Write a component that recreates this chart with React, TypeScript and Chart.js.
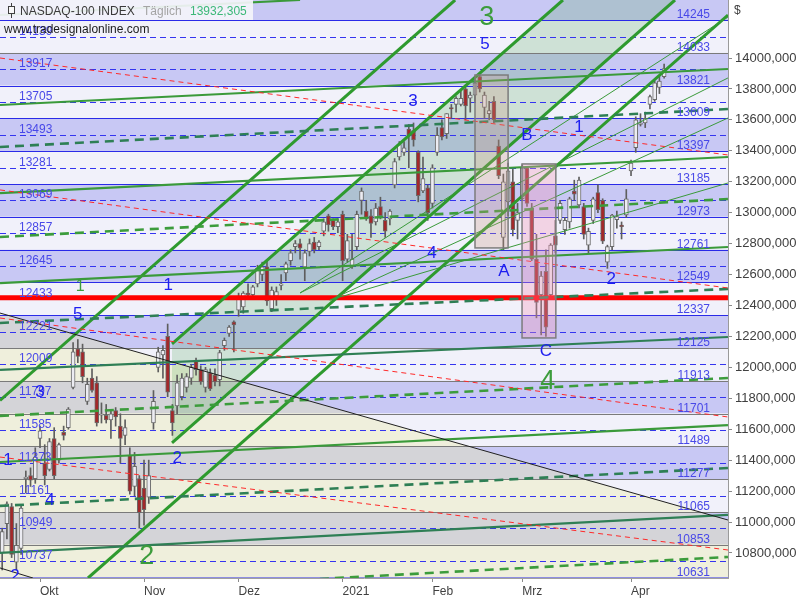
import React, { useEffect, useRef } from "react";
import { Chart, registerables } from "chart.js";

Chart.register(...registerables);

// ---------------- DATA ----------------
const dates: string[] = [
  "2020-09-21","2020-09-22","2020-09-23","2020-09-24","2020-09-25","2020-09-28","2020-09-29","2020-09-30",
  "2020-10-01","2020-10-02","2020-10-05","2020-10-06","2020-10-07","2020-10-08","2020-10-09","2020-10-12","2020-10-13","2020-10-14","2020-10-15","2020-10-16","2020-10-19","2020-10-20","2020-10-21","2020-10-22","2020-10-23","2020-10-26","2020-10-27","2020-10-28","2020-10-29","2020-10-30",
  "2020-11-02","2020-11-03","2020-11-04","2020-11-05","2020-11-06","2020-11-09","2020-11-10","2020-11-11","2020-11-12","2020-11-13","2020-11-16","2020-11-17","2020-11-18","2020-11-19","2020-11-20","2020-11-23","2020-11-24","2020-11-25","2020-11-27","2020-11-30",
  "2020-12-01","2020-12-02","2020-12-03","2020-12-04","2020-12-07","2020-12-08","2020-12-09","2020-12-10","2020-12-11","2020-12-14","2020-12-15","2020-12-16","2020-12-17","2020-12-18","2020-12-21","2020-12-22","2020-12-23","2020-12-24","2020-12-28","2020-12-29","2020-12-30","2020-12-31",
  "2021-01-04","2021-01-05","2021-01-06","2021-01-07","2021-01-08","2021-01-11","2021-01-12","2021-01-13","2021-01-14","2021-01-15","2021-01-19","2021-01-20","2021-01-21","2021-01-22","2021-01-25","2021-01-26","2021-01-27","2021-01-28","2021-01-29",
  "2021-02-01","2021-02-02","2021-02-03","2021-02-04","2021-02-05","2021-02-08","2021-02-09","2021-02-10","2021-02-11","2021-02-12","2021-02-16","2021-02-17","2021-02-18","2021-02-19","2021-02-22","2021-02-23","2021-02-24","2021-02-25","2021-02-26",
  "2021-03-01","2021-03-02","2021-03-03","2021-03-04","2021-03-05","2021-03-08","2021-03-09","2021-03-10","2021-03-11","2021-03-12","2021-03-15","2021-03-16","2021-03-17","2021-03-18","2021-03-19","2021-03-22","2021-03-23","2021-03-24","2021-03-25","2021-03-26","2021-03-29","2021-03-30","2021-03-31",
  "2021-04-01","2021-04-05","2021-04-06","2021-04-07","2021-04-08","2021-04-09","2021-04-12","2021-04-13",
];

const opens: number[] = [
  10800,10990,11100,10740,10830,11280,11300,11280,
  11540,11380,11340,11540,11400,11580,11610,11870,12120,12100,11780,11930,11900,11690,11690,11660,11720,11620,11560,11430,11230,11280,
  11220,11160,11640,12000,12080,12200,11720,11750,11810,11870,11930,12040,11985,11870,11965,11950,11920,12140,12220,12295,
  12370,12390,12480,12470,12540,12600,12650,12380,12460,12530,12610,12690,12780,12800,12650,12750,12810,12780,12880,12980,12950,12910,
  12990,12700,12650,12780,13080,13010,12980,12940,13040,12950,12960,13180,13360,13390,13540,13530,13390,13140,13160,
  13060,13390,13550,13510,13680,13700,13700,13800,13740,13760,13880,13680,13640,13720,13430,12840,13070,13200,12950,
  13090,13290,13030,12700,12470,12620,12470,12850,12950,12890,12940,13140,13050,13040,12790,12950,13130,13080,12680,12780,12955,12920,12985,
  13270,13420,13570,13580,13700,13730,13810,13880,
];
const highs: number[] = [
  10960,11130,11120,10990,11110,11330,11350,11480,
  11620,11500,11540,11610,11510,11620,11740,12160,12180,12150,11930,11990,11940,11770,11760,11720,11740,11700,11660,11480,11450,11300,
  11400,11400,11850,12130,12140,12280,11760,11950,11960,11960,12020,12060,12010,12000,11990,11990,12110,12190,12270,12300,
  12480,12490,12540,12530,12660,12680,12690,12520,12520,12600,12680,12760,12820,12830,12760,12830,12840,12820,12960,12990,12960,12960,
  13010,12860,12860,13010,13160,13080,13020,13060,13100,13000,13020,13350,13460,13460,13570,13580,13400,13360,13180,
  13310,13550,13600,13640,13700,13750,13790,13820,13780,13860,13890,13780,13720,13750,13470,13250,13320,13280,13060,
  13310,13300,13060,12860,12620,12760,12800,12950,13080,12970,13100,13210,13230,13060,12900,13100,13180,13090,12790,12990,13010,12940,13150,
  13340,13620,13640,13650,13760,13850,13880,13960,
];
const lows: number[] = [
  10690,10890,10770,10690,10790,11190,11230,11250,
  11480,11240,11330,11280,11380,11530,11600,11860,12030,11900,11760,11840,11620,11640,11640,11540,11620,11380,11500,11180,11170,10960,
  10980,11120,11600,11970,11930,11810,11560,11700,11790,11840,11890,11950,11890,11840,11850,11880,11880,12110,12200,12100,
  12330,12350,12440,12440,12520,12560,12400,12360,12400,12500,12560,12660,12740,12700,12560,12720,12740,12760,12850,12880,12890,12870,
  12560,12680,12640,12760,12990,12950,12840,12920,12960,12840,12920,13160,13340,13370,13290,13430,13070,13130,12950,
  13030,13370,13470,13480,13610,13650,13690,13600,13650,13720,13780,13610,13600,13580,13220,12760,12980,12850,12830,
  13080,13040,12690,12320,12210,12200,12450,12740,12930,12860,12900,13080,13030,12830,12740,12930,13000,12800,12640,12760,12900,12830,12970,
  13240,13390,13560,13550,13670,13720,13770,13870,
];
const closes: number[] = [
  10938,11117,10790,10850,11090,11290,11270,11420,
  11590,11300,11520,11300,11500,11560,11730,12100,12070,11940,11890,11850,11640,11700,11660,11700,11680,11540,11610,11200,11360,11060,
  11080,11300,11780,12100,12110,11840,11640,11900,11930,11940,12000,11985,11905,11985,11860,11905,12095,12175,12260,12275,
  12450,12480,12470,12520,12640,12650,12430,12500,12490,12540,12670,12740,12800,12770,12740,12800,12760,12810,12940,12920,12910,12940,
  12690,12820,12700,12990,13140,12960,12930,13030,12980,12880,13010,13330,13440,13420,13500,13470,13110,13220,13000,
  13290,13500,13490,13640,13670,13740,13740,13690,13760,13840,13800,13760,13660,13600,13240,13200,13270,12890,13000,
  13290,13060,12700,12420,12590,12260,12790,12790,13060,12950,13090,13120,13210,12860,12880,13090,13020,12815,12780,12985,12975,12910,13090,
  13320,13600,13580,13610,13750,13840,13850,13932,
];

const monthNames: Record<string, string> = {
  "2020-10": "Okt", "2020-11": "Nov", "2020-12": "Dez", "2021-01": "2021",
  "2021-02": "Feb", "2021-03": "Mrz", "2021-04": "Apr",
};
const priceTicks = [10800, 11000, 11200, 11400, 11600, 11800, 12000, 12200, 12400, 12600, 12800, 13000, 13200, 13400, 13600, 13800, 14000];

const solidLevels = [14245, 14033, 13821, 13609, 13397, 13185, 12973, 12761, 12549, 12337, 12125, 11913, 11701, 11489, 11277, 11065, 10853, 10641];
const rightLabels = ["14245", "14033", "13821", "13609", "13397", "13185", "12973", "12761", "12549", "12337", "12125", "11913", "11701", "11489", "11277", "11065", "10853", "10631"];
const midLevels = [14139, 13927, 13715, 13503, 13291, 13079, 12867, 12655, 12443, 12231, 12019, 11807, 11595, 11383, 11171, 10959, 10747];
const leftLabels = ["14139", "13917", "13705", "13493", "13281", "13069", "12857", "12645", "12433", "12221", "12009", "11797", "11585", "11373", "11161", "10949", "10737"];

// axis range (index units / price units)
const X_MIN = -0.46, X_MAX = 153.51, Y_MIN = 10638, Y_MAX = 14375;

// overlay lines in (bar index, price)
type P = [number, number];
const channelLines: P[][] = [
  [[-0.46, 11786], [95.8, 14375]],
  [[35.92, 12151], [118.6, 14375]],
  [[35.92, 11511], [142.3, 14375]],
  [[18.15, 10638], [153.5, 14278]],
];
const fanLines: P[][] = [
  [[63.0, 12481], [153.5, 14265]],
  [[63.0, 12481], [153.5, 13871]],
  [[69.3, 12435], [153.5, 13612]],
  [[69.3, 12435], [153.5, 13192]],
];
const trendSolid: P[][] = [
  [[-0.46, 14278], [63.0, 14375]],
  [[-0.46, 13696], [153.5, 13929]],
  [[-0.46, 13127], [153.5, 13360]],
  [[-0.46, 12545], [153.5, 12778]],
  [[-0.46, 11388], [153.5, 11627]],
];
const trendSolidDark: P[][] = [
  [[-0.46, 11983], [153.5, 12196]],
  [[-0.46, 10800], [153.5, 11046]],
];
const trendDashed: P[][] = [
  [[-0.46, 12843], [153.5, 13088]],
  [[-0.46, 11686], [153.5, 11931]],
  [[67.2, 10632], [153.5, 10774]],
];
const trendDashedDark: P[][] = [
  [[-0.46, 13425], [153.5, 13670]],
  [[-0.46, 12287], [153.5, 12507]],
  [[-0.46, 11104], [153.5, 11349]],
];
const redDashed: P[][] = [
  [[-0.46, 14000], [153.5, 13373]],
  [[-0.46, 13147], [153.5, 12513]],
  [[-0.46, 12319], [153.5, 11679]],
  [[-0.46, 11420], [153.5, 10819]],
];
const blackLines: P[][] = [
  [[-0.46, 12351], [153.5, 11013]],
  [[-0.46, 10703], [6.5, 10638]],
];
const redLevel: P[] = [[-0.46, 12450], [153.5, 12450]];

// boxes: [i0, i1, vTop, vBottom]
const boxFeb = [100.0, 107.0, 13890, 12772];
const boxMar = [109.95, 117.1, 13315, 12190];

// wave annotations
const waveBlue = [
  { t: "5", i: 16.0, v: 12345 }, { t: "3", i: 8.0, v: 11841 }, { t: "1", i: 1.23, v: 11401 },
  { t: "4", i: 10.1, v: 11142 }, { t: "2", i: 2.7, v: 10651 }, { t: "2", i: 37.0, v: 11414 },
  { t: "1", i: 35.1, v: 12532 }, { t: "4", i: 90.9, v: 12739 }, { t: "3", i: 86.9, v: 13722 },
  { t: "5", i: 102.1, v: 14091 }, { t: "B", i: 111.0, v: 13502 }, { t: "1", i: 122.0, v: 13554 },
  { t: "A", i: 106.1, v: 12623 }, { t: "2", i: 128.8, v: 12571 }, { t: "C", i: 115.0, v: 12106 },
];
const waveGreen = [
  { t: "3", i: 102.5, v: 14259 }, { t: "4", i: 115.4, v: 11905 }, { t: "2", i: 30.6, v: 10774 },
];
const waveGreenSmall = [{ t: "1", i: 16.5, v: 12520 }];

// ---------------- RENDER ----------------
const FONT = "'Liberation Sans', Arial, sans-serif";
const LAV = "#c8c8f4";
const LIGHT = "#f1f1fa";

const monthTicks: { index: number; label: string }[] = [];
dates.forEach((d, i) => {
  const m = d.slice(0, 7);
  if (monthNames[m] && (i === 0 || dates[i - 1].slice(0, 7) !== m)) monthTicks.push({ index: i, label: monthNames[m] });
});

function lineDs(segs: P[][], color: string, width: number, dash: number[] = []) {
  return segs.map((s) => ({
    type: "line" as const,
    data: s.map(([x, y]) => ({ x, y })),
    borderColor: color,
    borderWidth: width,
    borderDash: dash,
    pointRadius: 0,
    fill: false,
    tension: 0,
    order: 0,
    clip: 0,
  }));
}

const bgPlugin = {
  id: "bg",
  beforeDatasetsDraw(chart: any) {
    const { ctx, chartArea: a, scales } = chart;
    const X = (i: number) => scales.x.getPixelForValue(i);
    const Y = (v: number) => scales.y.getPixelForValue(v);
    ctx.save();
    ctx.beginPath();
    ctx.rect(a.left, a.top, a.width, a.height);
    ctx.clip();
    ctx.fillStyle = LAV;
    ctx.fillRect(a.left, a.top, a.width, Y(solidLevels[0]) - a.top);
    for (let k = 0; k < solidLevels.length - 1; k++) {
      ctx.fillStyle = k % 2 === 0 ? LIGHT : LAV;
      const y0 = Y(solidLevels[k]);
      const y1 = Y(solidLevels[k + 1]);
      ctx.fillRect(a.left, y0, a.width, y1 - y0);
    }
    const poly = (pts: P[], fill: string) => {
      ctx.beginPath();
      pts.forEach(([i, v], k) => (k ? ctx.lineTo(X(i), Y(v)) : ctx.moveTo(X(i), Y(v))));
      ctx.closePath();
      ctx.fillStyle = fill;
      ctx.fill();
    };
    const bl = blackLines[0];
    poly([bl[0], bl[1], [X_MAX, Y_MIN], [X_MIN, Y_MIN]], "rgba(236,236,160,0.33)");
    const q = channelLines[1], r = channelLines[2];
    poly([q[0], q[1], r[1], r[0]], "rgba(70,165,70,0.2)");
    // band lines
    solidLevels.forEach((lv, k) => {
      const grey = k === 1 || (k >= 10 && k < solidLevels.length - 1);
      ctx.strokeStyle = grey ? "#7a7a7a" : "#2a2ae8";
      ctx.lineWidth = k === solidLevels.length - 1 ? 2 : 1.2;
      ctx.setLineDash([]);
      ctx.beginPath();
      ctx.moveTo(a.left, Math.round(Y(lv)) + 0.5);
      ctx.lineTo(a.right, Math.round(Y(lv)) + 0.5);
      ctx.stroke();
    });
    ctx.strokeStyle = "#3434f0";
    ctx.lineWidth = 1;
    ctx.setLineDash([6, 4]);
    midLevels.forEach((lv) => {
      ctx.beginPath();
      ctx.moveTo(a.left, Math.round(Y(lv)) + 0.5);
      ctx.lineTo(a.right, Math.round(Y(lv)) + 0.5);
      ctx.stroke();
    });
    ctx.restore();
  },
};

const fgPlugin = {
  id: "fg",
  afterDatasetsDraw(chart: any) {
    const { ctx, chartArea: a, scales } = chart;
    const X = (i: number) => scales.x.getPixelForValue(i);
    const Y = (v: number) => scales.y.getPixelForValue(v);
    ctx.save();
    ctx.beginPath();
    ctx.rect(a.left, a.top, a.width, a.height);
    ctx.clip();
    const box = (b: number[], fill: string) => {
      const x0 = X(b[0]), x1 = X(b[1]), y0 = Y(b[2]), y1 = Y(b[3]);
      ctx.fillStyle = fill;
      ctx.fillRect(x0, y0, x1 - x0, y1 - y0);
      ctx.strokeStyle = "#7c7c7c";
      ctx.lineWidth = 1.5;
      ctx.setLineDash([]);
      ctx.strokeRect(x0, y0, x1 - x0, y1 - y0);
    };
    box(boxFeb, "rgba(200,150,130,0.28)");
    box(boxMar, "rgba(245,150,185,0.32)");

    ctx.font = `12px ${FONT}`;
    ctx.fillStyle = "#4848e8";
    ctx.textBaseline = "alphabetic";
    ctx.textAlign = "right";
    solidLevels.forEach((lv, k) => ctx.fillText(rightLabels[k], 710, Y(lv) - 2));
    ctx.textAlign = "left";
    midLevels.forEach((lv, k) => ctx.fillText(leftLabels[k], 19, Y(lv) - 2));

    ctx.textAlign = "center";
    ctx.textBaseline = "middle";
    ctx.font = `17px ${FONT}`;
    ctx.fillStyle = "#1e1ef0";
    waveBlue.forEach((w) => ctx.fillText(w.t, X(w.i), Y(w.v)));
    ctx.font = `27px ${FONT}`;
    ctx.fillStyle = "#3c9c3c";
    waveGreen.forEach((w) => ctx.fillText(w.t, X(w.i), Y(w.v)));
    ctx.font = `16px ${FONT}`;
    waveGreenSmall.forEach((w) => ctx.fillText(w.t, X(w.i), Y(w.v)));
    ctx.restore();
  },
  afterDraw(chart: any) {
    const { ctx, chartArea: a } = chart;
    ctx.save();
    // frame
    ctx.strokeStyle = "#9a9a9a";
    ctx.lineWidth = 1;
    ctx.beginPath();
    ctx.moveTo(a.right + 0.5, a.top);
    ctx.lineTo(a.right + 0.5, a.bottom);
    ctx.stroke();
    // header
    ctx.fillStyle = "rgba(244,244,250,0.92)";
    ctx.fillRect(0, 0, 253, 20);
    ctx.strokeStyle = "#404040";
    ctx.lineWidth = 1;
    ctx.beginPath();
    ctx.moveTo(11.5, 3);
    ctx.lineTo(11.5, 18);
    ctx.stroke();
    ctx.fillStyle = "#f8f8f8";
    ctx.fillRect(8.5, 6.5, 6, 7);
    ctx.strokeRect(8.5, 6.5, 6, 7);
    ctx.font = `12px ${FONT}`;
    ctx.textBaseline = "middle";
    ctx.textAlign = "left";
    ctx.fillStyle = "#3a3a3a";
    ctx.fillText("NASDAQ-100 INDEX", 20, 12);
    ctx.fillStyle = "#a4a4a4";
    ctx.fillText("Täglich", 143, 12);
    ctx.fillStyle = "#3cb878";
    ctx.fillText("13932,305", 190, 12);
    ctx.fillStyle = "#1a1a1a";
    ctx.fillText("www.tradesignalonline.com", 4, 30);
    ctx.fillStyle = "#404040";
    ctx.fillText("$", 734, 11);
    ctx.restore();
  },
};

function buildConfig(): any {
  const wick = {
    type: "bar" as const,
    data: dates.map((_, i) => ({ x: i, y: [lows[i], highs[i]] })),
    backgroundColor: "#5e5e5e",
    barThickness: 1,
    grouped: false,
    order: 3,
  };
  const body = {
    type: "bar" as const,
    data: dates.map((_, i) => ({ x: i, y: [opens[i], closes[i]] })),
    backgroundColor: dates.map((_, i) => (closes[i] >= opens[i] ? "#ececf2" : "#a3282a")),
    borderColor: "#6a6a6a",
    borderWidth: 1,
    borderSkipped: false,
    barThickness: 4,
    grouped: false,
    order: 2,
  };
  return {
    type: "bar",
    data: {
      datasets: [
        wick,
        body,
        ...lineDs(blackLines, "#202020", 1),
        ...lineDs(redDashed, "#ff2a2a", 1, [5, 4]),
        ...lineDs(trendDashed, "#3c9c3c", 2.6, [9, 6]),
        ...lineDs(trendDashedDark, "#2e7f55", 2.6, [9, 6]),
        ...lineDs(trendSolid, "#3a9a3a", 2.2),
        ...lineDs(trendSolidDark, "#2f7f55", 2.2),
        ...lineDs(fanLines, "#3a9a3a", 1),
        ...lineDs(channelLines, "#2e9a2e", 3),
        ...lineDs([redLevel], "#ff0000", 5),
      ],
    },
    options: {
      responsive: false,
      animation: false,
      events: [],
      layout: { padding: 0 },
      plugins: { legend: { display: false }, tooltip: { enabled: false }, title: { display: false } },
      scales: {
        x: {
          type: "linear",
          min: X_MIN,
          max: X_MAX,
          offset: false,
          grid: { offset: false, drawOnChartArea: false, drawTicks: true, tickLength: 4, color: "#8a8a8a" },
          border: { display: true, color: "#a0a0a0" },
          ticks: {
            autoSkip: false,
            maxRotation: 0,
            minRotation: 0,
            align: "start",
            padding: 2,
            color: "#404040",
            font: { family: FONT, size: 12 },
            callback: (v: number) => {
              const t = monthTicks.find((m) => m.index === v);
              return t ? t.label : "";
            },
          },
          afterBuildTicks: (s: any) => {
            s.ticks = monthTicks.map((m) => ({ value: m.index }));
          },
          afterFit: (s: any) => {
            s.height = 22;
            s.paddingLeft = 0;
            s.paddingRight = 0;
          },
        },
        y: {
          type: "linear",
          position: "right",
          min: Y_MIN,
          max: Y_MAX,
          grid: { offset: false, drawOnChartArea: false, drawTicks: true, tickLength: 4, color: "#8a8a8a" },
          border: { display: true, color: "#a0a0a0" },
          ticks: {
            padding: 3,
            color: "#404040",
            font: { family: FONT, size: 13 },
            callback: (v: number) => `${v},000`,
          },
          afterBuildTicks: (s: any) => {
            s.ticks = priceTicks.map((v) => ({ value: v }));
          },
          afterFit: (s: any) => {
            s.width = 72;
            s.paddingTop = 0;
            s.paddingBottom = 0;
          },
        },
      },
    },
    plugins: [bgPlugin, fgPlugin],
  };
}

export default function App() {
  const ref = useRef<HTMLCanvasElement>(null);
  useEffect(() => {
    const canvas = ref.current;
    if (!canvas) return;
    const chart = new Chart(canvas, buildConfig());
    return () => chart.destroy();
  }, []);
  return (
    <div style={{ position: "absolute", left: 0, top: 0, width: 800, height: 600, background: "#ffffff" }}>
      <canvas ref={ref} width={800} height={600} style={{ display: "block", width: 800, height: 600 }} />
    </div>
  );
}
